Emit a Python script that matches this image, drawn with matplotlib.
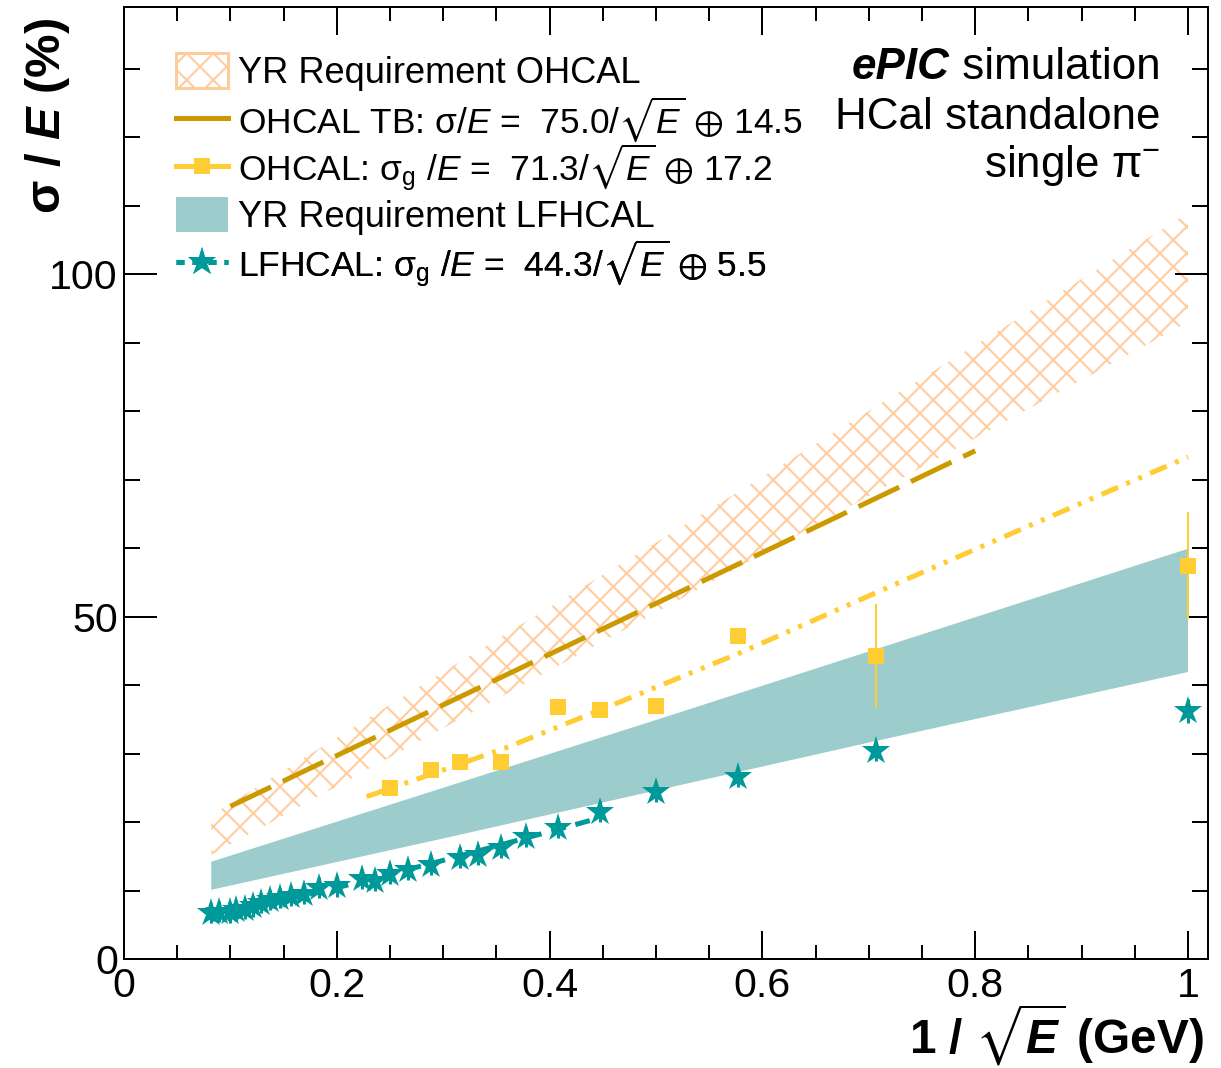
import matplotlib
matplotlib.use("Agg")
import matplotlib.pyplot as plt
from matplotlib.patches import Patch
from matplotlib.lines import Line2D
from matplotlib.ticker import MultipleLocator

# ---------------- data ----------------
# YR requirement OHCAL band (hatched)
ohcal_req_x = [0.082, 0.3, 0.5, 0.7, 1.0]
ohcal_req_hi = [21.0, 41.9, 60.8, 80.0, 108.9]
ohcal_req_lo = [15.2, 33.7, 50.6, 67.6, 93.0]

# YR requirement LFHCAL band (filled)
lfhcal_req_x = [0.082, 0.3, 0.5, 0.7, 1.0]
lfhcal_req_hi = [14.2, 25.0, 34.9, 44.9, 59.9]
lfhcal_req_lo = [10.1, 17.6, 24.6, 31.6, 41.9]

# OHCAL test-beam curve
tb_x = [0.1, 0.45, 0.8]
tb_y = [22.3, 48.2, 74.2]

# OHCAL simulation fit curve
ohcal_fit_x = [0.228, 0.3, 0.36, 0.45, 0.579, 0.729, 0.85, 1.0]
ohcal_fit_y = [23.7, 27.6, 30.9, 36.5, 44.7, 55.0, 63.2, 73.3]

# OHCAL simulation points
ohcal_x = [0.25, 0.289, 0.316, 0.354, 0.408, 0.447, 0.5, 0.577, 0.707, 1.0]
ohcal_y = [24.9, 27.6, 28.8, 28.7, 36.8, 36.4, 37.0, 47.2, 44.2, 57.4]
ohcal_err = [0.5, 0.5, 0.5, 0.5, 0.6, 0.6, 0.7, 0.8, 7.6, 7.8]

# LFHCAL simulation fit curve
lf_fit_x = [0.082, 0.15, 0.2, 0.25, 0.3, 0.35, 0.4, 0.447]
lf_fit_y = [6.6, 8.6, 10.4, 12.4, 14.4, 16.5, 18.6, 20.6]

# LFHCAL simulation points
lf_x = [0.082, 0.089, 0.100, 0.105, 0.114, 0.121, 0.129, 0.137, 0.147, 0.157,
        0.169, 0.183, 0.200, 0.224, 0.236, 0.250, 0.267, 0.289, 0.316, 0.333,
        0.354, 0.378, 0.408, 0.447, 0.500, 0.577, 0.707, 1.000]
lf_y = [6.7, 6.9, 6.8, 7.1, 7.3, 7.7, 8.2, 8.6, 8.9, 9.2,
        9.5, 10.4, 10.6, 11.7, 11.4, 12.4, 13.0, 13.7, 14.8, 15.2,
        16.2, 17.8, 19.1, 21.5, 24.4, 26.6, 30.4, 36.2]
lf_err = [1.5] * 27 + [1.7]

xticks = [0, 0.2, 0.4, 0.6, 0.8, 1.0]
xticklabels = ["0", "0.2", "0.4", "0.6", "0.8", "1"]
yticks = [0, 50, 100]
yticklabels = ["0", "50", "100"]

labels = [
    "YR Requirement OHCAL",
    r"OHCAL TB: σ/$E$ =  75.0/$\sqrt{E}$ $\oplus$ 14.5",
    r"OHCAL: σ$_\mathrm{g}$ /$E$ =  71.3/$\sqrt{E}$ $\oplus$ 17.2",
    "YR Requirement LFHCAL",
    r"LFHCAL: σ$_\mathrm{g}$ /$E$ =  44.3/$\sqrt{E}$ $\oplus$ 5.5",
]

# ---------------- style ----------------
DPI = 160
P = 72.0 / DPI  # points per pixel

ORANGE = "#ffcb9a"
GOLD = "#cc9a00"
YELLOW = "#ffcc33"
TEAL = "#009999"
TEAL_FILL = "#9dcccc"

FAM = ["Liberation Sans", "DejaVu Sans"]
plt.rcParams["font.family"] = FAM
plt.rcParams["mathtext.fontset"] = "custom"
plt.rcParams["mathtext.rm"] = "Liberation Sans"
plt.rcParams["mathtext.it"] = "Liberation Sans:italic"
plt.rcParams["mathtext.bf"] = "Liberation Sans:bold"
plt.rcParams["mathtext.fallback"] = "stixsans"
try:
    plt.rcParams["mathtext.bfit"] = "Liberation Sans:bold:italic"
except KeyError:
    pass
plt.rcParams["hatch.linewidth"] = 2.0 * P

fig = plt.figure(figsize=(1221 / DPI, 1068 / DPI), dpi=DPI)
ax = fig.add_axes([124 / 1221, (1068 - 959) / 1068, (1208 - 124) / 1221, (959 - 7) / 1068])

# bands
ax.fill_between(ohcal_req_x, ohcal_req_lo, ohcal_req_hi, facecolor="none",
                edgecolor=ORANGE, hatch="xx", linewidth=0, zorder=1)
ax.fill_between(lfhcal_req_x, lfhcal_req_lo, lfhcal_req_hi, facecolor=TEAL_FILL,
                edgecolor="none", linewidth=0, zorder=2)

# curves
ax.plot(tb_x, tb_y, color=GOLD, lw=5 * P, dashes=(9, 2.6), zorder=3,
        solid_capstyle="butt", dash_capstyle="butt")
ax.plot(ohcal_fit_x, ohcal_fit_y, color=YELLOW, lw=5 * P,
        dashes=(3.6, 1.8, 0.8, 1.8, 0.8, 1.8), zorder=3, dash_capstyle="butt")
ax.plot(lf_fit_x, lf_fit_y, color=TEAL, lw=5 * P, dashes=(3, 2), zorder=3,
        dash_capstyle="butt")

# points
ax.errorbar(ohcal_x, ohcal_y, yerr=ohcal_err, fmt="s", color=YELLOW, ms=16 * P,
            mew=0, elinewidth=2 * P, capsize=4 * P, capthick=2 * P, zorder=4)
ax.errorbar(lf_x, lf_y, yerr=lf_err, fmt="*", color=TEAL, ms=30 * P,
            mew=0, elinewidth=3 * P, capsize=4 * P, capthick=3 * P, zorder=5)

# axes
ax.set_xlim(0, 1.0188)
ax.set_ylim(0, 139.0)
ax.set_xticks(xticks)
ax.set_xticklabels(xticklabels)
ax.set_yticks(yticks)
ax.set_yticklabels(yticklabels)
ax.xaxis.set_minor_locator(MultipleLocator(0.05))
ax.yaxis.set_minor_locator(MultipleLocator(10))
ax.tick_params(which="both", direction="in", top=True, right=True,
               width=2 * P, labelsize=18.5)
ax.tick_params(axis="x", which="major", length=28 * P, pad=8 * P)
ax.tick_params(axis="x", which="minor", length=14 * P)
ax.tick_params(axis="y", which="major", length=33 * P, pad=6 * P)
ax.tick_params(axis="y", which="minor", length=16 * P)
for s in ax.spines.values():
    s.set_linewidth(2 * P)

fig.text(1204 / 1221, 1 - 1035 / 1068, r"1 / $\sqrt{\mathbfit{E}}$ (GeV)",
         ha="right", va="center", fontsize=21.5, fontweight="bold")
fig.text(47 / 1221, 1 - 18 / 1068, r"σ / $\mathbfit{E}$ (%)", rotation=90,
         ha="center", va="top", fontsize=22, fontweight="bold")

# legend: one entry per row at evenly spaced rows
handles = [
    Patch(facecolor="white", edgecolor=ORANGE, hatch="xx", lw=3 * P),
    Line2D([], [], color=GOLD, lw=5 * P),
    Line2D([], [], color=YELLOW, lw=5 * P, marker="s", ms=16 * P, mew=0),
    Patch(facecolor=TEAL_FILL, edgecolor="none"),
    Line2D([], [], color=TEAL, lw=5 * P, dashes=(1.6, 1.6), marker="*", ms=30 * P, mew=0),
]
row_px = [72, 120, 168, 216, 264]
row_off = [0, -1, -1, 0, -1]
row_fs = [16.3, 15.9, 15.9, 16.3, 15.9]
row_hl = [1.44, 1.47, 1.47, 1.44, 1.47]
for h, lab, yp, off, fs, hl in zip(handles, labels, row_px, row_off, row_fs, row_hl):
    leg = ax.legend([h], [lab], loc="center left",
                    bbox_to_anchor=(0.048, (959 - yp - off) / 952),
                    frameon=False, fontsize=fs, handlelength=hl, handleheight=1.1,
                    handletextpad=0.28, borderpad=0, borderaxespad=0)
    ax.add_artist(leg)

# label text upper right
t1 = ax.text(0.956, 0.936, " simulation", transform=ax.transAxes, ha="right",
             va="center", fontsize=19.8)
ax.annotate("ePIC", xy=(0, 0), xycoords=t1, ha="right", va="bottom", fontsize=19.8,
            fontweight="bold", fontstyle="italic")
ax.text(0.956, 0.884, "HCal standalone", transform=ax.transAxes, ha="right",
        va="center", fontsize=19.8)
ax.text(0.956, 0.834, r"single π$^{-}$", transform=ax.transAxes, ha="right",
        va="center", fontsize=19.8)

fig.savefig("out.png", dpi=DPI)
